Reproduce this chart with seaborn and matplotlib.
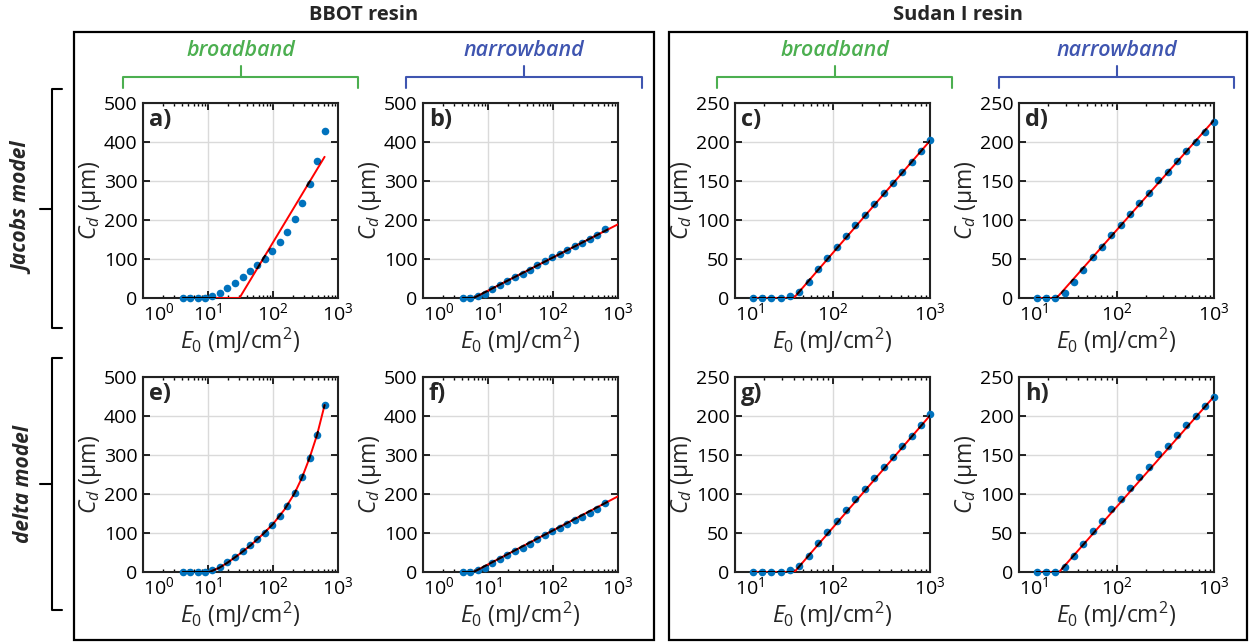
import numpy as np
import matplotlib.pyplot as plt
import seaborn as sns
from matplotlib.path import Path
from matplotlib.transforms import IdentityTransform
from matplotlib.ticker import LogLocator, NullFormatter, MultipleLocator
from matplotlib.patches import Rectangle

sns.set_theme(style="ticks")
plt.rcParams['font.family'] = ['Open Sans', 'DejaVu Sans']
plt.rcParams['mathtext.fontset'] = 'custom'
plt.rcParams['mathtext.rm'] = 'Open Sans'
plt.rcParams['mathtext.it'] = 'Open Sans:italic'
plt.rcParams['mathtext.bf'] = 'Open Sans:bold'

# exposure dose E0 (mJ/cm2)
E_bbot = [4.1, 5.3, 6.9, 9.0, 11.7, 15.3, 19.9, 26, 34, 44,
          57, 75, 97, 127, 165, 215, 281, 366, 477, 622]
E_sudan = [15.2, 19.0, 23.6, 29.5, 36.7, 45.8, 57.1, 71.2, 88.8, 111,
           138, 172, 215, 268, 334, 416, 519, 647, 807, 1006]

# cure depth Cd (um)
Cd_bbot_broad = [0, 0, 0, 0, 5, 13, 25, 38, 53, 68,
                 84, 101, 120, 143, 169, 202, 243, 292, 352, 428]
Cd_bbot_narrow = [0, 0, 4, 11, 24, 34, 44, 54, 62, 73,
                  84, 95, 104, 113, 122, 133, 142, 151, 161, 176]
Cd_sudan_broad = [0, 0, 0, 0, 2, 8, 21, 37, 51, 65,
                  80, 93, 107, 121, 135, 148, 161, 174, 188, 202]
Cd_sudan_narrow = [0, 0, 0, 6, 20, 36, 52, 66, 81, 94,
                   108, 122, 135, 151, 162, 176, 189, 200, 213, 225]

# fitted curves (Jacobs model: top row, delta model: bottom row)
fitE_a = [4.1, 30.5, 622]
fitC_a = [0, 0, 362]
fitE_b = [4.1, 6.0, 1000]
fitC_b = [0, 0, 189]
fitE_c = [15.2, 40.1, 1006]
fitC_c = [0, 0, 202]
fitE_d = [15.2, 24.3, 1000]
fitC_d = [0, 0, 228]
fitE_e = [4.1, 10.5, 15, 20, 30, 45, 70, 100, 150, 215, 281, 366, 477, 622]
fitC_e = [0, 0, 11, 24, 45, 68, 97, 123, 160, 202, 243, 293, 352, 428]
fitE_f = [4.1, 6.0, 1000]
fitC_f = [0, 0, 194]
fitE_g = [15.2, 40.7, 1006]
fitC_g = [0, 0, 201]
fitE_h = [15.2, 25.8, 1000]
fitC_h = [0, 0, 225]

W, H = 1250, 644
fig = plt.figure(figsize=(W / 100, H / 100), dpi=100)

green = '#4CAF50'
blue = '#3F55B0'
mblue = '#0072BD'
ms = 30  # marker area, pt^2

panels = [
    ('a)', E_bbot, Cd_bbot_broad, fitE_a, fitC_a, 500, 1, (143, 103)),
    ('b)', E_bbot, Cd_bbot_narrow, fitE_b, fitC_b, 500, 1, (423, 103)),
    ('c)', E_sudan, Cd_sudan_broad, fitE_c, fitC_c, 250, 10, (735, 103)),
    ('d)', E_sudan, Cd_sudan_narrow, fitE_d, fitC_d, 250, 10, (1019, 103)),
    ('e)', E_bbot, Cd_bbot_broad, fitE_e, fitC_e, 500, 1, (143, 377)),
    ('f)', E_bbot, Cd_bbot_narrow, fitE_f, fitC_f, 500, 1, (423, 377)),
    ('g)', E_sudan, Cd_sudan_broad, fitE_g, fitC_g, 250, 10, (735, 377)),
    ('h)', E_sudan, Cd_sudan_narrow, fitE_h, fitC_h, 250, 10, (1019, 377)),
]
aw, ah = 195, 195

for letter, E, Cd, fE, fC, ymax, xmin, (px, py) in panels:
    ax = fig.add_axes([px / W, 1 - (py + ah) / H, aw / W, ah / H])
    sns.scatterplot(x=E, y=Cd, ax=ax, s=ms, color=mblue, linewidth=0,
                    clip_on=False, zorder=3)
    sns.lineplot(x=fE, y=fC, ax=ax, color='red', lw=1.4, zorder=4)
    ax.set_xscale('log')
    ax.set_xlim(xmin, 1000)
    ax.set_ylim(0, ymax)
    ax.set_xticks([t for t in [1, 10, 100, 1000] if t >= xmin])
    ax.xaxis.set_minor_locator(LogLocator(base=10, subs=np.arange(2, 10)))
    ax.xaxis.set_minor_formatter(NullFormatter())
    ax.yaxis.set_major_locator(MultipleLocator(ymax / 5))
    ax.tick_params(which='both', direction='in', top=True, right=True,
                   labelsize=14, colors='black')
    ax.tick_params(axis='y', pad=4)
    ax.tick_params(axis='x', pad=3)
    ax.tick_params(which='major', length=5, width=1.2)
    ax.tick_params(which='minor', length=2.5, width=1)
    ax.grid(True, which='major', color='#DADADA', lw=1)
    ax.set_axisbelow(True)
    for s in ax.spines.values():
        s.set_linewidth(1.5)
        s.set_color('#222222')
    # first decade label starts at the axis corner, clear of the "0"
    ax.xaxis.get_major_ticks()[0].label1.set_horizontalalignment('left')
    ax.set_ylabel(r'$C_d$ (µm)', fontsize=16.5, labelpad=0)
    ax.set_xlabel(r'$E_{\mathit{0}}$ (mJ/cm$^{\mathrm{2}}$)', fontsize=16.5, labelpad=1)
    ax.text(0.03, 0.975, letter, transform=ax.transAxes, ha='left', va='top',
            fontsize=17, fontweight='bold')

    # darker overlap where the fit crosses the markers
    pts = ax.transData.transform(np.column_stack([E, Cd]))
    r = np.sqrt(ms) / 2 * fig.dpi / 72
    clip = Path.make_compound_path(*[Path.circle(p, r) for p in pts])
    sns.lineplot(x=fE, y=fC, ax=ax, color='black', lw=1.4, zorder=5)
    ax.lines[-1].set_clip_path(clip, IdentityTransform())

# frame and bracket annotations in pixel coordinates
ov = fig.add_axes([0, 0, 1, 1], zorder=-1)
ov.set_xlim(0, W)
ov.set_ylim(H, 0)
ov.axis('off')
ov.add_patch(Rectangle((74, 32), 580, 608, fill=False, ec='black', lw=1.6))
ov.add_patch(Rectangle((669, 32), 578, 608, fill=False, ec='black', lw=1.6))
ov.text(364, 15, 'BBOT resin', ha='center', va='center', fontsize=14.5, fontweight='bold')
ov.text(958, 15, 'Sudan I resin', ha='center', va='center', fontsize=14.5, fontweight='bold')

def hbracket(x0, x1, color, label):
    xm = (x0 + x1) / 2
    ov.plot([x0, x0, x1, x1], [88, 77, 77, 88], color=color, lw=1.5)
    ov.plot([xm, xm], [77, 66], color=color, lw=1.5)
    ov.text(xm, 50, label, ha='center', va='center', fontsize=15.5,
            style='italic', fontweight='semibold', color=color)

hbracket(123, 358, green, 'broadband')
hbracket(406, 642, blue, 'narrowband')
hbracket(717, 952, green, 'broadband')
hbracket(999, 1234, blue, 'narrowband')

def vbracket(y0, y1, label):
    ym = (y0 + y1) / 2
    ov.plot([62, 52, 52, 62], [y0, y0, y1, y1], color='black', lw=1.5)
    ov.plot([40, 52], [ym, ym], color='black', lw=1.5)
    ov.text(24, ym, label, ha='center', va='center', rotation=90, fontsize=15,
            style='italic', fontweight='bold')

vbracket(89, 328, 'Jacobs model')
vbracket(358, 610, 'delta model')

fig.savefig('out.png', dpi=100)
